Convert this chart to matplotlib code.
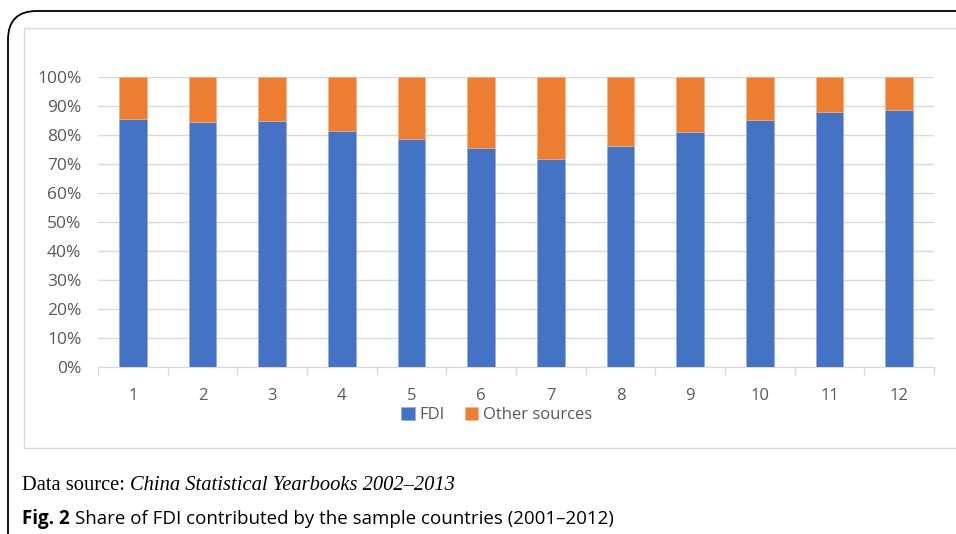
import matplotlib.pyplot as plt
from matplotlib.patches import FancyBboxPatch, Rectangle

categories = ['1', '2', '3', '4', '5', '6', '7', '8', '9', '10', '11', '12']
fdi = [85.3, 84.3, 84.6, 81.2, 78.6, 75.5, 71.7, 76.2, 81.0, 85.0, 87.7, 88.4]
other = [100 - v for v in fdi]
yticks = [0, 10, 20, 30, 40, 50, 60, 70, 80, 90, 100]

W, H = 956, 534
fig = plt.figure(figsize=(W / 100, H / 100), dpi=100)
plt.rcParams['font.family'] = ['Open Sans', 'DejaVu Sans']
grey = '#595959'

# outer rounded frame and inner chart frame
fig.patches.append(FancyBboxPatch((8 / W, -0.2), 1.2, (H - 11) / H + 0.2, boxstyle='round,pad=0,rounding_size=0.03',
                                  transform=fig.transFigure, fill=False, ec='black', lw=1.3, mutation_aspect=W / H))
fig.patches.append(Rectangle((24 / W, (H - 448) / H), 1.0, (448 - 28) / H, transform=fig.transFigure,
                             fill=False, ec='#d9d9d9', lw=1))

ax = fig.add_axes([98 / W, (H - 366.7) / H, 836 / W, 290 / H])
x = range(len(categories))
ax.bar(x, fdi, width=0.4, color='#4472C4', label='FDI', zorder=3, ec='#8faadc', lw=0.4)
ax.bar(x, other, width=0.4, bottom=fdi, color='#ED7D31', label='Other sources', zorder=3, ec='#f4b183', lw=0.4)

ax.set_xlim(-0.5, len(categories) - 0.5)
ax.set_ylim(0, 100)
ax.set_yticks(yticks)
ax.set_yticklabels([f'{v}%' for v in yticks])
ax.yaxis.grid(True, color='#d9d9d9', lw=1, zorder=0)
ax.set_xticks(list(x))
ax.set_xticklabels(categories)
ax.set_xticks([i - 0.5 for i in range(len(categories) + 1)], minor=True)
ax.tick_params(axis='x', which='major', length=0, pad=15, labelsize=12, labelcolor=grey)
ax.tick_params(axis='x', which='minor', length=6, color='#d9d9d9', width=1)
ax.tick_params(axis='y', length=0, pad=12, labelsize=12.5, labelcolor=grey)
for s in ['top', 'right', 'left']:
    ax.spines[s].set_visible(False)
ax.spines['bottom'].set_color('#d9d9d9')

fig.legend(loc='center', bbox_to_anchor=(497 / W, (H - 415) / H), ncol=2, frameon=False,
           fontsize=12, labelcolor=grey, handlelength=0.8, handleheight=0.8, handletextpad=0.3, columnspacing=1.2)

fig.text(22 / W, (H - 486) / H, 'Data source: ', family='Liberation Serif', fontsize=14.8, va='center')
t = fig.text(0, 0, 'Data source: ', family='Liberation Serif', fontsize=14.8)
fig.canvas.draw()
bb = t.get_window_extent()
t.remove()
fig.text((22 + bb.width) / W, (H - 486) / H, 'China Statistical Yearbooks 2002\u20132013', family='Liberation Serif',
         style='italic', fontsize=14.8, va='center')

f = fig.text(22 / W, (H - 519) / H, 'Fig. 2', fontsize=13.5, weight='bold', va='center')
fig.canvas.draw()
fb = f.get_window_extent()
fig.text((22 + fb.width + 5) / W, (H - 519) / H, 'Share of FDI contributed by the sample countries (2001\u20132012)',
         fontsize=13.5, va='center')

fig.savefig('out.png', dpi=100)
